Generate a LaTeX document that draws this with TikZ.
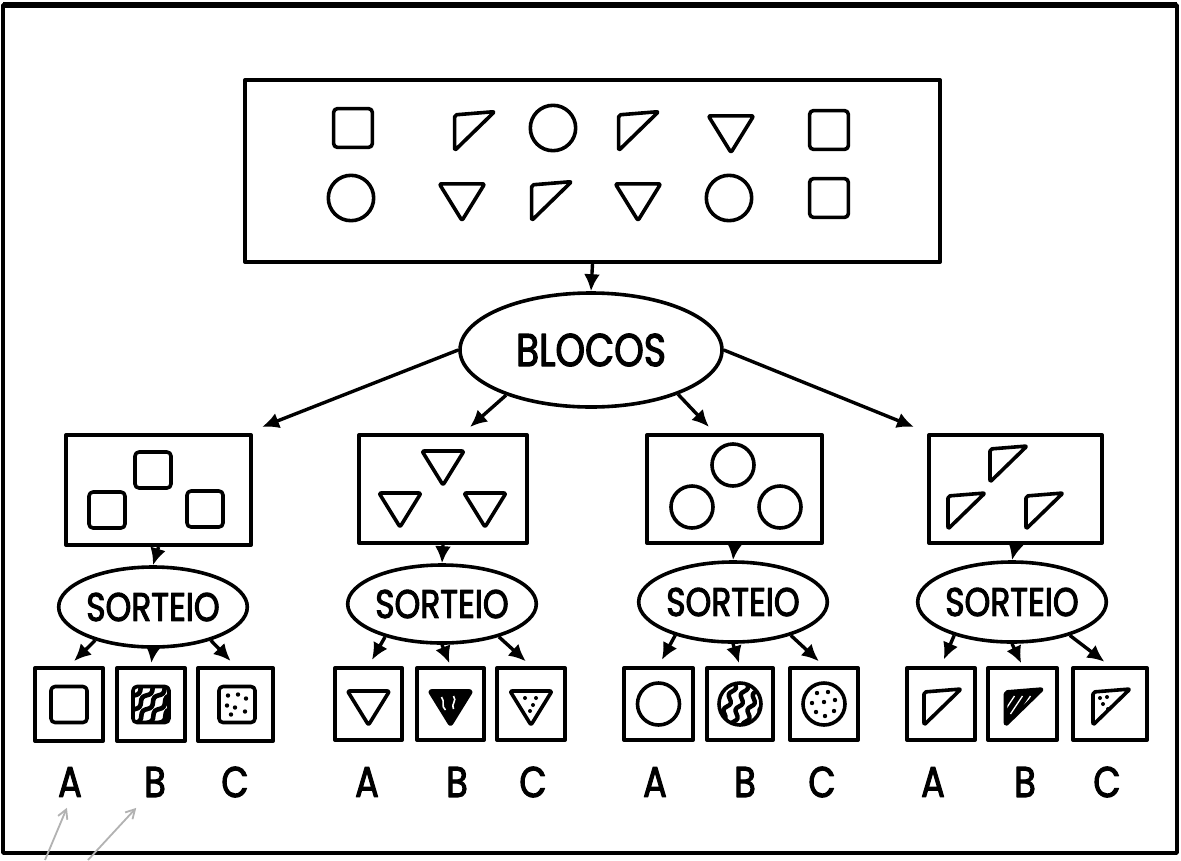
\documentclass[tikz,border=0pt]{standalone}
\usepackage{fontspec}
\newfontfamily\hand[FakeStretch=0.82,FakeBold=2.5]{Poppins}
\usetikzlibrary{shapes.geometric,arrows.meta,calc,decorations.pathmorphing}
% shape outlines (local coordinates, y downward)
\def\pSq{[rounded corners=4pt] (-18,-18) rectangle (18,18)}
\def\pCi{(0,0) circle (21)}
\def\pTr{[rounded corners=2pt] (-21,-15) -- (21,-15) -- (0,19) -- cycle}
\def\pRt{[rounded corners=2pt] (-17,-14) -- (20,-17) -- (-17,19) -- cycle}
\newcommand\shapeA[2]{\begin{scope}[shift={(#2)}]\draw[shp] #1;\end{scope}}
\newcommand\shapeT[2]{\begin{scope}[shift={(#2)},scale=1.08]\draw[shp] #1;\end{scope}}
\newcommand\shapeP[3]{\begin{scope}[shift={(#2)}]\begin{scope}\clip #1; #3\end{scope}\draw[shp] #1;\end{scope}}
\newcommand\wavesD{\foreach \k in {-36,-24,...,36}{\draw[line width=4.6pt,decorate,decoration={snake,amplitude=2pt,segment length=18pt}] (\k-22,26) -- (\k+22,-26);}}
\newcommand\wavesV{\foreach \k in {-36,-24,...,36}{\draw[line width=4.4pt,decorate,decoration={snake,amplitude=2.4pt,segment length=16pt}] (\k-9,26) -- (\k+9,-26);}}
\newcommand\triB{\fill \pTr; \draw[white,line width=1.6pt] (-9,-9) .. controls (-5,-4) and (-10,0) .. (-5,4); \draw[white,line width=1.6pt] (3,-10) .. controls (7,-5) and (0,-2) .. (3,3);}
\newcommand\rtB{\fill \pRt; \foreach \k in {-14,-6,2}{\draw[white,line width=1.3pt] (\k-6,8) -- (\k+6,-10);}}
\newcommand\dotsSq{\foreach \p in {(-9,-9),(1,-10),(9,-6),(-10,1),(-2,3),(8,7),(-6,10)} \fill \p circle (2.2);}
\newcommand\dotsCi{\foreach \p in {(-7,-11),(4,-12),(11,-4),(-12,-1),(0,-2),(10,7),(-8,8),(1,12)} \fill \p circle (2.2);}
\newcommand\dotsTr{\foreach \p in {(-6,-8),(5,-8),(2,-1),(-1,5)} \fill \p circle (2);}
\newcommand\dotsRt{\foreach \p in {(-10,-8),(-3,-9),(-7,-2),(-2,3)} \fill \p circle (2);}
\begin{document}
\begin{tikzpicture}[x=1pt,y=-1pt,line join=round,
  shp/.style={line width=3.6pt},
  box/.style={draw,rectangle,line width=4pt,inner sep=0pt},
  ell/.style={draw,ellipse,line width=3.6pt,inner sep=0pt},
  arr/.style={line width=3.4pt,-{Latex[length=17pt,width=16pt]}},
  garr/.style={gray!60,line width=1.8pt,-{Straight Barb[length=9pt,width=10pt]}},
  sor/.style={font=\hand\fontsize{40}{40}\selectfont},
  lbl/.style={font=\hand\fontsize{43}{43}\selectfont},
]
\useasboundingbox (0,0) rectangle (1181,860);
\fill[white] (0,0) rectangle (1181,860);
% outer frame
\draw[line width=3.6pt] (3,5) rectangle (1177,853);
\draw[line width=6pt] (3,5) -- (1177,5);

% top box
\node[box,minimum width=695pt,minimum height=182pt] (top) at (592.5,171) {};
\shapeT{\pSq}{353,128}
\shapeT{\pRt}{473,130}
\shapeT{\pCi}{553,128}
\shapeT{\pRt}{637,130}
\shapeT{\pTr}{731,132}
\shapeT{\pSq}{829,130}
\shapeT{\pCi}{351,198}
\shapeT{\pTr}{462,200}
\shapeT{\pRt}{550,200}
\shapeT{\pTr}{638,200}
\shapeT{\pCi}{729,198}
\shapeT{\pSq}{829,198}

\node[ell,minimum width=262pt,minimum height=114pt,font=\hand\fontsize{46}{46}\selectfont] (blocos) at (591,350) {BLOCOS};
\draw[arr] (top.south) -- (blocos.north);

% group boxes
\node[box,minimum width=185pt,minimum height=110pt] (g1) at (158.5,490) {};
\node[box,minimum width=168pt,minimum height=108pt] (g2) at (443,489) {};
\node[box,minimum width=175pt,minimum height=108pt] (g3) at (734.5,489) {};
\node[box,minimum width=173pt,minimum height=108pt] (g4) at (1015.5,489) {};

\coordinate (t1) at (262,427);
\coordinate (t2) at (470,427);
\coordinate (t3) at (709,427);
\coordinate (t4) at (914,427);
\draw[arr] (blocos.180) -- (t1);
\draw[arr] (blocos.208) -- (t2);
\draw[arr] (blocos.333) -- (t3);
\draw[arr] (blocos.0) -- (t4);

\shapeA{\pSq}{153,470}
\shapeA{\pSq}{107,510}
\shapeA{\pSq}{205,509}
\shapeA{\pTr}{443,466}
\shapeA{\pTr}{400,508}
\shapeA{\pTr}{485,508}
\shapeA{\pCi}{733,465}
\shapeA{\pCi}{692,507}
\shapeA{\pCi}{780,507}
\shapeA{\pRt}{1007,463}
\shapeA{\pRt}{965,510}
\shapeA{\pRt}{1043,510}

% SORTEIO ellipses
\node[ell,sor,minimum width=184pt,minimum height=80pt] (s1) at (153,607) {SORTEIO};
\node[ell,sor,minimum width=186pt,minimum height=78pt] (s2) at (442,604) {SORTEIO};
\node[ell,sor,minimum width=186pt,minimum height=80pt] (s3) at (733,602) {SORTEIO};
\node[ell,sor,minimum width=186pt,minimum height=80pt] (s4) at (1012,602) {SORTEIO};
\foreach \i in {1,2,3,4} {\draw[arr] (g\i.south) -- (s\i.north);}

% small boxes
\node[box,minimum width=68pt,minimum height=73pt] (a1) at (69,704.5) {};
\node[box,minimum width=68pt,minimum height=73pt] (b1) at (151,704.5) {};
\node[box,minimum width=75pt,minimum height=73pt] (c1) at (235.5,704.5) {};
\node[box,minimum width=67pt,minimum height=72pt] (a2) at (368.5,704) {};
\node[box,minimum width=67pt,minimum height=72pt] (b2) at (450.5,704) {};
\node[box,minimum width=68pt,minimum height=72pt] (c2) at (531,704) {};
\node[box,minimum width=69pt,minimum height=72pt] (a3) at (658.5,704) {};
\node[box,minimum width=66pt,minimum height=72pt] (b3) at (740,704) {};
\node[box,minimum width=68pt,minimum height=72pt] (c3) at (824,704) {};
\node[box,minimum width=68pt,minimum height=72pt] (a4) at (941,704) {};
\node[box,minimum width=69pt,minimum height=72pt] (b4) at (1022.5,704) {};
\node[box,minimum width=74pt,minimum height=72pt] (c4) at (1110,704) {};

\foreach \i in {1,2,3,4} {
  \draw[arr,shorten >=7pt] (s\i.210) -- (a\i.north);
  \draw[arr,shorten >=3pt] (s\i.south) -- (b\i.north);
  \draw[arr,shorten >=7pt] (s\i.330) -- (c\i.north);
}

% shapes in small boxes
\shapeA{\pSq}{69,704.5}
\shapeP{\pSq}{151,704.5}{\wavesD}
\shapeP{\pSq}{237,704.5}{\dotsSq}
\shapeA{\pTr}{368.5,706}
\shapeP{\pTr}{450.5,706}{\triB}
\shapeP{\pTr}{531,706}{\dotsTr}
\shapeA{\pCi}{658.5,704}
\shapeP{\pCi}{740,704}{\wavesV}
\shapeP{\pCi}{824,704}{\dotsCi}
\shapeA{\pRt}{941,706}
\shapeP{\pRt}{1022.5,706}{\rtB}
\shapeP{\pRt}{1110,706}{\dotsRt}

% labels
\node[lbl] (lA1) at (70,782) {A};
\node[lbl] (lB1) at (155,782) {B};
\node[lbl] (lC1) at (235,782) {C};
\node[lbl] (lA2) at (367,782) {A};
\node[lbl] (lB2) at (457,782) {B};
\node[lbl] (lC2) at (533,782) {C};
\node[lbl] (lA3) at (655,782) {A};
\node[lbl] (lB3) at (745,782) {B};
\node[lbl] (lC3) at (822,782) {C};
\node[lbl] (lA4) at (933,782) {A};
\node[lbl] (lB4) at (1025,782) {B};
\node[lbl] (lC4) at (1107,782) {C};

% faint hand arrows at lower left
\coordinate (ga) at (45,860);
\coordinate (gb) at (88,860);
\draw[garr,shorten >=8pt] (ga) -- (lA1.south);
\draw[garr,shorten >=10pt] (gb) -- ($(lB1.south)+(-12,0)$);
\end{tikzpicture}
\end{document}
